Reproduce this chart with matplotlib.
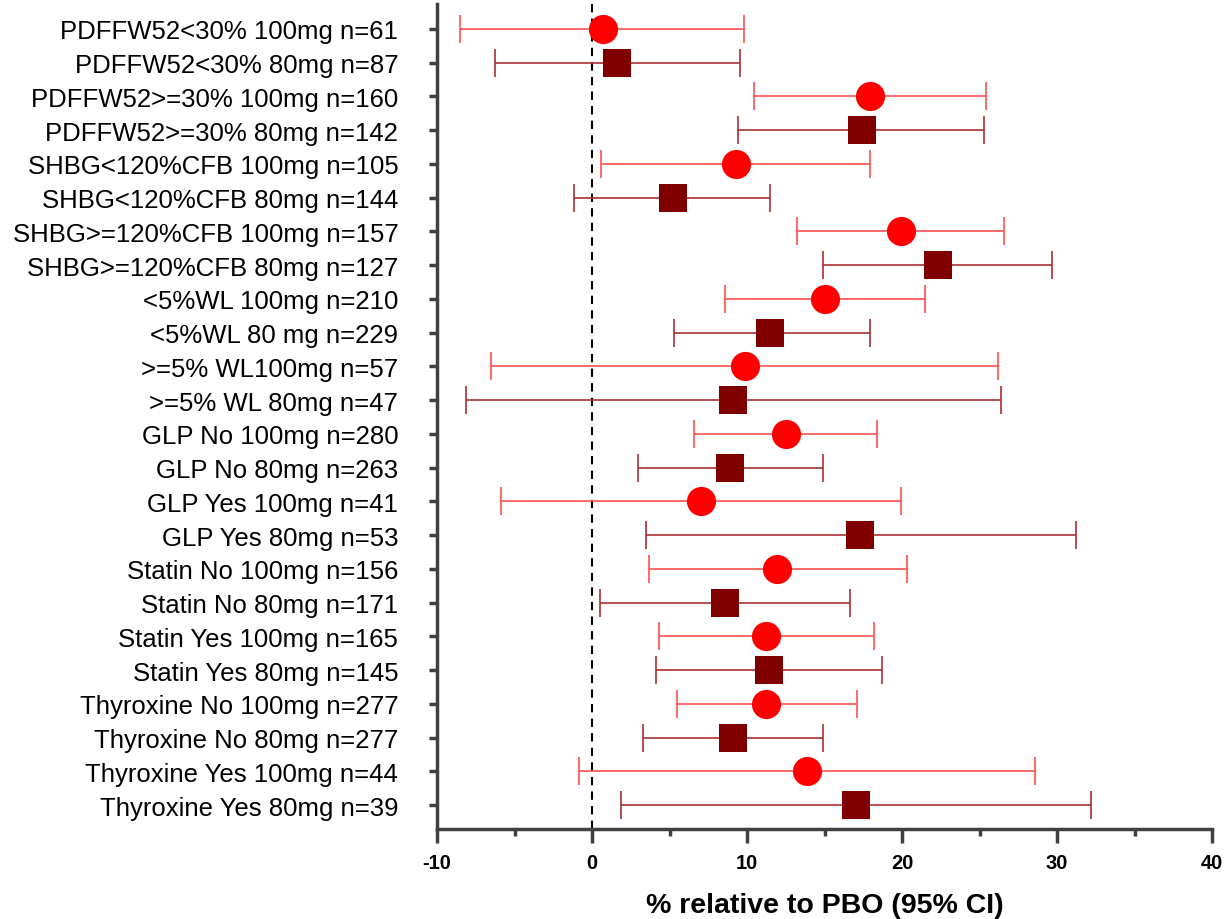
import matplotlib
matplotlib.use("Agg")
import matplotlib.pyplot as plt
from matplotlib.ticker import MultipleLocator

labels = [
    "PDFFW52<30% 100mg n=61", "PDFFW52<30% 80mg n=87",
    "PDFFW52>=30% 100mg n=160", "PDFFW52>=30% 80mg n=142",
    "SHBG<120%CFB 100mg n=105", "SHBG<120%CFB 80mg n=144",
    "SHBG>=120%CFB 100mg n=157", "SHBG>=120%CFB 80mg n=127",
    "<5%WL 100mg n=210", "<5%WL 80 mg n=229",
    ">=5% WL100mg n=57", ">=5% WL 80mg n=47",
    "GLP No 100mg n=280", "GLP No 80mg n=263",
    "GLP Yes 100mg n=41", "GLP Yes 80mg n=53",
    "Statin No 100mg n=156", "Statin No 80mg n=171",
    "Statin Yes 100mg n=165", "Statin Yes 80mg n=145",
    "Thyroxine No 100mg n=277", "Thyroxine No 80mg n=277",
    "Thyroxine Yes 100mg n=44", "Thyroxine Yes 80mg n=39",
]
estimate = [0.7, 1.6, 17.9, 17.4, 9.3, 5.2, 19.9, 22.3, 15.0, 11.5, 9.85, 9.1,
            12.5, 8.9, 7.0, 17.3, 11.9, 8.55, 11.2, 11.4, 11.2, 9.1, 13.85, 17.0]
lower = [-8.5, -6.3, 10.45, 9.4, 0.6, -1.15, 13.2, 14.9, 8.6, 5.3, -6.5, -8.15,
         6.55, 2.95, -5.85, 3.5, 3.65, 0.5, 4.3, 4.15, 5.45, 3.25, -0.85, 1.85]
upper = [9.8, 9.55, 25.4, 25.3, 17.9, 11.5, 26.6, 29.7, 21.5, 17.9, 26.2, 26.4,
         18.4, 14.9, 19.95, 31.2, 20.3, 16.65, 18.2, 18.7, 17.1, 14.9, 28.55, 32.2]
xticks = [-10, 0, 10, 20, 30, 40]

fig = plt.figure(figsize=(12.28, 9.2), dpi=100)
ax = fig.add_axes([0.356, 0.0978, 0.631, 0.8968])

fam = ["Liberation Sans", "DejaVu Sans"]

ax.axvline(0, color="black", linestyle=(0, (4, 3)), linewidth=1.5, zorder=1)

for i, (lab, est, lo, hi) in enumerate(zip(labels, estimate, lower, upper)):
    is100 = "100mg" in lab
    mcol = "#ff0000" if is100 else "#800000"
    lcol = "#ff5050" if is100 else "#a83030"
    ax.errorbar([est], [i], xerr=[[est - lo], [hi - est]], fmt="none",
                ecolor=lcol, elinewidth=1.2, capsize=10.4, capthick=1.2, zorder=2)
    ax.plot([est], [i], marker="o" if is100 else "s", markersize=21 if is100 else 20.5,
            color=mcol, markeredgewidth=0, linestyle="none", zorder=3)

ax.set_ylim(len(labels) - 1 + 0.71, -0.74)
ax.set_yticks(range(len(labels)))
ax.set_yticklabels(labels, fontsize=18.5, family=fam)
ax.set_xlim(-10, 40)
ax.xaxis.set_minor_locator(MultipleLocator(5))
ax.set_xticks(xticks)
ax.set_xticklabels([str(v) for v in xticks], fontsize=14.5,
                   fontweight="bold", family=fam)
ax.set_xlabel("% relative to PBO (95% CI)", fontsize=20.5, fontweight="bold",
              family=fam, labelpad=15)

for s in ["top", "right"]:
    ax.spines[s].set_visible(False)
for s in ["left", "bottom"]:
    ax.spines[s].set_color("#404040")
    ax.spines[s].set_linewidth(2.5)
ax.tick_params(axis="x", which="major", length=10, width=2.5, color="#404040", pad=7)
ax.tick_params(axis="x", which="minor", length=5, width=2.5, color="#404040")
ax.tick_params(axis="y", which="major", length=6, width=2.5, color="#404040", pad=22)

fig.savefig("out.png", dpi=100)
